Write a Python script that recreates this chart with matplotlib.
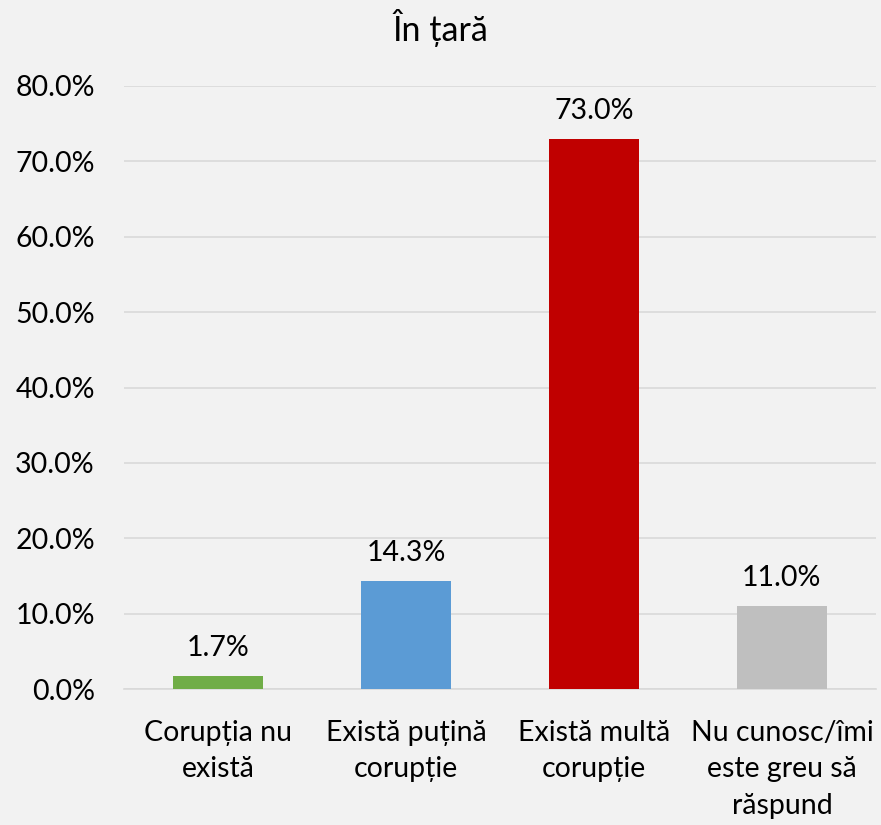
import matplotlib.pyplot as plt
import matplotlib as mpl
from matplotlib.ticker import FuncFormatter

plt.rcParams["font.family"] = ["Lato", "DejaVu Sans"]

# data
categories = ["Corupția nu\nexistă", "Există puțină\ncorupție",
              "Există multă\ncorupție", "Nu cunosc/îmi\neste greu să\nrăspund"]
values = [1.7, 14.3, 73.0, 11.0]
colors = ["#70ad47", "#5b9bd5", "#c00000", "#bfbfbf"]
title = "În țară"

fs = 20.5
bg = "#f2f2f2"
fig = plt.figure(figsize=(8.81, 8.25), dpi=100, facecolor=bg)
ax = fig.add_axes([0.1407, 0.1648, 0.8535, 0.731], facecolor=bg)

x = range(len(values))
ax.bar(x, values, width=0.48, color=colors, zorder=3)
for i, v in zip(x, values):
    ax.text(i, v + 2.0, f"{v:.1f}%", ha="center", va="bottom", fontsize=fs, color="#000000")

ax.set_xlim(-0.5, 3.5)
ax.set_ylim(0, 80)
ax.set_yticks(range(0, 81, 10))
ax.yaxis.set_major_formatter(FuncFormatter(lambda v, p: f"{v:.1f}%"))
ax.set_xticks(list(x))
ax.set_xticklabels(categories, fontsize=fs, linespacing=1.5, va="top")
ax.tick_params(axis="y", labelsize=fs, length=0, pad=21)
ax.tick_params(axis="x", length=0, pad=22)
ax.grid(axis="y", color="#d9d9d9", linewidth=1.2, zorder=0)
for s in ["top", "right", "left"]:
    ax.spines[s].set_visible(False)
ax.spines["bottom"].set_color("#d9d9d9")
ax.spines["bottom"].set_linewidth(1.2)

fig.text(0.5, 0.966, title, ha="center", va="center", fontsize=24.5)

plt.savefig("out.png", dpi=100, facecolor=bg)
